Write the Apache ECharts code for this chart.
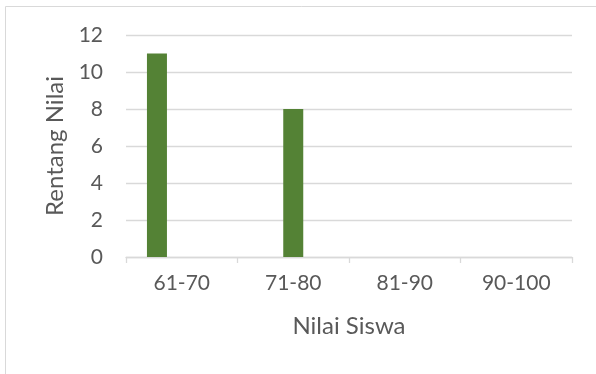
<!DOCTYPE html>
<html>
<head>
<meta charset="utf-8">
<script src="https://cdn.jsdelivr.net/npm/echarts@6/dist/echarts.min.js"></script>
<style>
  html, body { margin: 0; padding: 0; background: #fff; }
  #container { width: 596px; height: 374px; }
</style>
</head>
<body>
<div id="container"></div>
<script>
// data
var kategori = ['61-70', '71-80', '81-90', '90-100'];
// 61-70 sits left of centre (it shares its slot), 71-80 is centred
var seriKiri = [11, null, 0, 0];
var seriTengah = [null, 8, null, null];
var seriKosong = [null, null, null, null];
var yTicks = { min: 0, max: 12, interval: 2 };

var font = 'Lato, "Open Sans", sans-serif';
var abu = '#595959';
var garis = '#d9d9d9';
var hijau = '#548235';

var myChart = echarts.init(document.getElementById('container'));
var option = {
    animation: false,
    graphic: [{
        type: 'rect',
        shape: { x: 5.5, y: 6.5, width: 620, height: 400 },
        style: { fill: 'none', stroke: garis, lineWidth: 1 }
    }],
    grid: { left: 126, right: 24, top: 35, bottom: 117 },
    xAxis: [{
        type: 'category',
        data: kategori,
        name: 'Nilai Siswa',
        nameLocation: 'middle',
        nameGap: 57,
        nameTextStyle: { fontFamily: font, fontSize: 24, color: abu },
        axisLine: { lineStyle: { color: garis, width: 1.3 } },
        axisTick: { show: true, length: 6, lineStyle: { color: garis, width: 1.3 } },
        axisLabel: { fontFamily: font, fontSize: 21, color: abu, margin: 16 }
    }, {
        type: 'category',
        data: kategori,
        show: false
    }],
    yAxis: {
        type: 'value',
        min: yTicks.min,
        max: yTicks.max,
        interval: yTicks.interval,
        name: 'Rentang Nilai',
        nameLocation: 'middle',
        nameRotate: 90,
        nameGap: 58,
        nameTextStyle: { fontFamily: font, fontSize: 24, color: abu },
        axisLine: { show: false },
        axisTick: { show: false },
        axisLabel: { fontFamily: font, fontSize: 21, color: abu, margin: 23 },
        splitLine: { lineStyle: { color: garis, width: 1.3 } }
    },
    series: [
        { name: 'Seri 1', type: 'bar', xAxisIndex: 0, data: seriKiri, barWidth: 20, barGap: '24%', itemStyle: { color: hijau } },
        { name: 'Seri 2', type: 'bar', xAxisIndex: 0, data: seriKosong, barWidth: 20, barGap: '24%' },
        { name: 'Seri 3', type: 'bar', xAxisIndex: 0, data: seriKosong, barWidth: 20, barGap: '24%' },
        { name: 'Seri 4', type: 'bar', xAxisIndex: 1, data: seriTengah, barWidth: 20, itemStyle: { color: hijau } }
    ]
};
myChart.setOption(option);
</script>
</body>
</html>
